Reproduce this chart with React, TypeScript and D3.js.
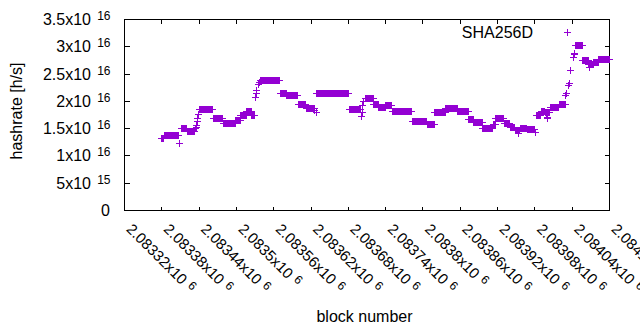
import React from "react";
import * as d3 from "d3";

// Runs of consecutive blocks sharing the same hashrate estimate (value in units of 1e16 h/s)
const runStart = [
  2083379, 2083384, 2083409, 2083411, 2083421, 2083434, 2083435, 2083436, 2083437, 2083438, 2083439,
  2083440, 2083463, 2083479, 2083499, 2083507, 2083517, 2083525,
  2083530, 2083532, 2083533, 2083535, 2083537,
  2083539, 2083571, 2083581, 2083600, 2083612, 2083626, 2083628,
  2083629, 2083682, 2083701, 2083702, 2083703, 2083705,
  2083707, 2083721, 2083729, 2083740, 2083751, 2083783, 2083807,
  2083819, 2083837, 2083856, 2083874, 2083882, 2083896, 2083913,
  2083917, 2083931, 2083940, 2083949, 2083954, 2083957, 2083968, 2083981,
  2083982, 2083990, 2083997, 2083998, 2084000, 2084001,
  2084005, 2084019,
  2084030, 2084031, 2084034, 2084035, 2084037, 2084042, 2084043, 2084044,
  2084045, 2084057, 2084067, 2084068, 2084075, 2084083,
];
const runEnd = [
  2083382, 2083407, 2083409, 2083420, 2083433, 2083434, 2083435, 2083436, 2083437, 2083438, 2083439,
  2083462, 2083478, 2083498, 2083506, 2083516, 2083524, 2083529,
  2083530, 2083532, 2083533, 2083535, 2083537,
  2083570, 2083580, 2083599, 2083611, 2083625, 2083626, 2083628,
  2083681, 2083700, 2083701, 2083702, 2083703, 2083705,
  2083720, 2083728, 2083739, 2083750, 2083782, 2083806, 2083818,
  2083836, 2083855, 2083873, 2083881, 2083895, 2083912, 2083916,
  2083930, 2083939, 2083948, 2083956, 2083954, 2083967, 2083980, 2083981,
  2083989, 2083996, 2084004, 2083998, 2084000, 2084001,
  2084018, 2084029,
  2084030, 2084031, 2084034, 2084035, 2084037, 2084042, 2084043, 2084044,
  2084056, 2084066, 2084074, 2084068, 2084082, 2084100,
];
const runValue = [
  1.32, 1.37, 1.23, 1.5, 1.45, 1.5, 1.52, 1.55, 1.63, 1.69, 1.76,
  1.85, 1.68, 1.59, 1.65, 1.74, 1.81, 1.74,
  2.07, 2.14, 2.2, 2.3, 2.35,
  2.39, 2.14, 2.11, 1.95, 1.86, 1.83, 1.8,
  2.15, 1.845, 1.72, 1.8, 1.93, 1.99,
  2.05, 1.94, 1.89, 1.92, 1.81, 1.63, 1.57,
  1.79, 1.86, 1.81, 1.67, 1.61, 1.5, 1.58,
  1.69, 1.59, 1.53, 1.47, 1.41, 1.51, 1.49, 1.43,
  1.74, 1.81, 1.8, 1.76, 1.71, 1.69,
  1.89, 1.94,
  2.1, 2.14, 2.29, 2.32, 2.56, 2.8, 2.87, 2.85,
  3.03, 2.74, 2.68, 2.62, 2.71, 2.76,
];

const seriesName = "SHA256D";

const yTickValues = [0, 5e15, 1e16, 1.5e16, 2e16, 2.5e16, 3e16, 3.5e16];
const yTickMantissa = ["0", "5", "1", "1.5", "2", "2.5", "3", "3.5"];
const yTickExponent = ["", "15", "16", "16", "16", "16", "16", "16"];

const xTickValues = [
  2083320, 2083380, 2083440, 2083500, 2083560, 2083620, 2083680,
  2083740, 2083800, 2083860, 2083920, 2083980, 2084040, 2084100,
];
const xTickLabels = [
  "2.08332", "2.08338", "2.08344", "2.0835", "2.08356", "2.08362", "2.08368",
  "2.08374", "2.0838", "2.08386", "2.08392", "2.08398", "2.08404", "2.0841",
];

const FONT = "'Liberation Sans', Arial, sans-serif";
const COLOR = "#9400d3";

export default function App() {
  const W = 640, H = 330;
  const left = 124.5, right = 609.5, top = 19.5, bottom = 210.5;
  const x = d3.scaleLinear().domain([2083320, 2084100]).range([left, right]);
  const y = d3.scaleLinear().domain([0, 3.5e16]).range([bottom, top]);

  const points: [number, number][] = [];
  runStart.forEach((s, i) => {
    for (let b = s; b <= runEnd[i]; b++) points.push([b, runValue[i] * 1e16]);
  });
  const r = 3.5;
  const plus = (cx: number, cy: number) =>
    `M${cx - r},${cy}H${cx + r}M${cx},${cy - r}V${cy + r}`;
  const snap = (v: number) => Math.round(v - 0.5) + 0.5;
  const dataPath = points.map(([b, v]) => plus(snap(x(b)), snap(y(v)))).join("");

  const tickLenY = 5, tickLenX = 4;

  return (
    <div style={{ position: "fixed", left: 0, top: 0 }}>
      <svg width={W} height={H} style={{ display: "block", background: "#fff", overflow: "hidden" }} fontFamily={FONT}>
        <rect x={0} y={0} width={W} height={H} fill="#fff" />
        {/* ticks */}
        <g stroke="#000" strokeWidth={1} shapeRendering="crispEdges">
          {yTickValues.map((v, i) => (
            <g key={"yt" + i}>
              <line x1={left} x2={left + tickLenY} y1={snap(y(v))} y2={snap(y(v))} />
              <line x1={right} x2={right - tickLenY} y1={snap(y(v))} y2={snap(y(v))} />
            </g>
          ))}
          {xTickValues.map((v, i) => (
            <g key={"xt" + i}>
              <line x1={snap(x(v))} x2={snap(x(v))} y1={bottom} y2={bottom - tickLenX} />
              <line x1={snap(x(v))} x2={snap(x(v))} y1={top} y2={top + tickLenX} />
            </g>
          ))}
          <rect x={left} y={top} width={right - left} height={bottom - top} fill="none" />
        </g>
        {/* y tick labels */}
        <g fontSize={16} fill="#000">
          {yTickValues.map((v, i) =>
            yTickExponent[i] === "" ? (
              <text key={"yl" + i} x={110} y={y(v) + 5.5} textAnchor="end">{yTickMantissa[i]}</text>
            ) : (
              <g key={"yl" + i}>
                <text x={91} y={y(v) + 5.5} textAnchor="end">{yTickMantissa[i] + "x10"}</text>
                <text x={110.5} y={y(v) + 0.5} textAnchor="end" fontSize={12}>{yTickExponent[i]}</text>
              </g>
            )
          )}
        </g>
        {/* x tick labels */}
        <g fontSize={15} fill="#000">
          {xTickValues.map((v, i) => (
            <text key={"xl" + i} transform={`translate(${x(v) + 1},230) rotate(45)`}>
              <tspan>{xTickLabels[i] + "x10"}</tspan>
              <tspan dx={5} dy={-4} fontSize={12}>6</tspan>
            </text>
          ))}
        </g>
        {/* axis titles */}
        <text x={364.5} y={321.5} textAnchor="middle" fontSize={16}>block number</text>
        <text transform="translate(22,111) rotate(-90)" textAnchor="middle" fontSize={16}>hashrate [h/s]</text>
        {/* legend */}
        <text x={533} y={37.5} textAnchor="end" fontSize={16}>{seriesName}</text>
        <path d={plus(567.5, 32.5)} stroke={COLOR} strokeWidth={1} shapeRendering="crispEdges" fill="none" />
        {/* data */}
        <path d={dataPath} stroke={COLOR} strokeWidth={1} fill="none" shapeRendering="crispEdges" />
      </svg>
    </div>
  );
}
